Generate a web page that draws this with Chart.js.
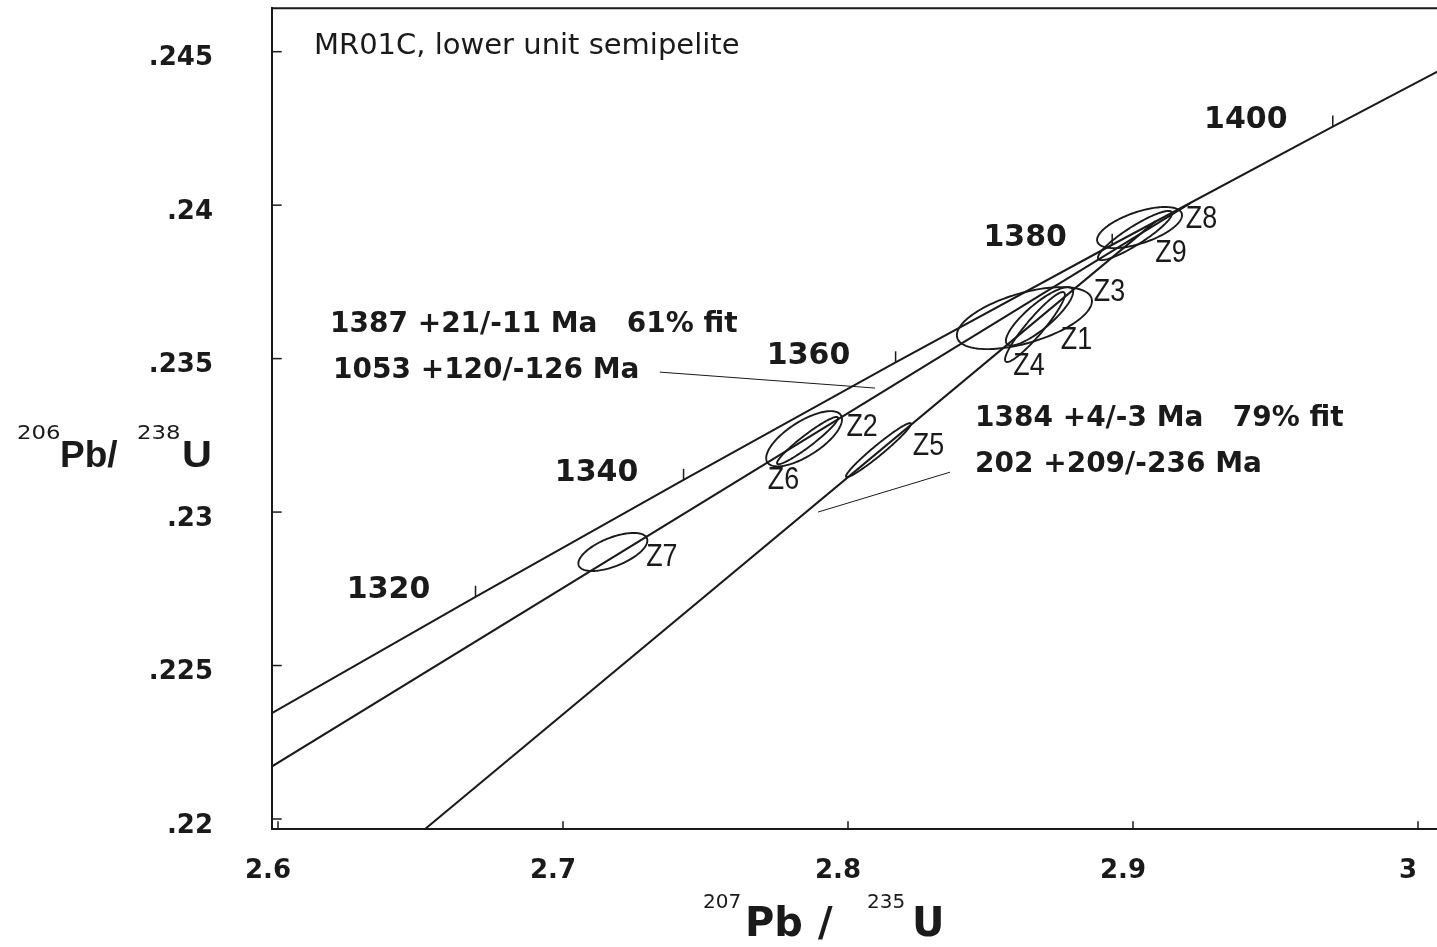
<!DOCTYPE html>
<html><head><meta charset="utf-8">
<script src="https://cdn.jsdelivr.net/npm/chart.js@4.4.1/dist/chart.umd.min.js"></script>
<style>
html,body{margin:0;padding:0;background:#fff;overflow:hidden;width:1437px;height:947px;}
#wrap{position:absolute;left:0;top:0;width:1450px;height:947px;}
canvas{display:block;}
</style></head><body>
<div id="wrap"><canvas id="c" width="1450" height="947"></canvas></div>
<script>
// ---- data ----
// Concordia curve points (age in Ma, 207Pb/235U, 206Pb/238U)
const concordiaAges = [1300, 1320, 1340, 1360, 1380, 1400, 1420];
const concordiaX = [2.5977, 2.6693, 2.7423, 2.8167, 2.8927, 2.9701, 3.0491];
const concordiaY = [0.22344, 0.22724, 0.23105, 0.23488, 0.23871, 0.24256, 0.24642];
const labeledAges = [1320, 1340, 1360, 1380, 1400];

// Discordia lines: lower intercept -> upper intercept
const discordiaA_X = [1.8208, 2.9200];   // 1053 Ma -> 1387 Ma
const discordiaA_Y = [0.17745, 0.24006];
const discordiaB_X = [0.2201, 2.9080];   // 202 Ma -> 1384 Ma
const discordiaB_Y = [0.03183, 0.23948];

// Leader lines from the intercept annotations
const leader1_X = [2.7340, 2.8095];
const leader1_Y = [0.23456, 0.23404];
const leader2_X = [2.8358, 2.7895];
const leader2_Y = [0.23130, 0.23000];

// Zircon analyses: centre, 2-sigma half extents, error correlation
const zNames = ['Z1', 'Z2', 'Z3', 'Z4', 'Z5', 'Z6', 'Z7', 'Z8', 'Z9'];
const zX   = [2.8672, 2.7846, 2.8619, 2.8656, 2.8107, 2.7858, 2.7175, 2.9023, 2.9007];
const zY   = [0.23638, 0.23239, 0.23632, 0.23603, 0.23202, 0.23233, 0.22870, 0.23927, 0.23901];
const zSX  = [0.0118, 0.0133, 0.0237, 0.0105, 0.0114, 0.0107, 0.0121, 0.0149, 0.0130];
const zSY  = [0.00095, 0.00090, 0.00101, 0.00114, 0.00088, 0.00077, 0.00062, 0.00067, 0.00080];
const zRho = [0.84, 0.70, 0.55, 0.93, 0.97, 0.95, 0.60, 0.60, 0.90];

// Axis tick settings
const xTickStep = 0.1;
const yTickStep = 0.005;

// Texts
const sampleTitle = 'MR01C, lower unit semipelite';
const fitA = ['1387 +21/-11 Ma   61% fit', '1053 +120/-126 Ma'];
const fitB = ['1384 +4/-3 Ma   79% fit', '202 +209/-236 Ma'];

// ---- drawing ----
const INK = '#1a1a1a';
const zLabelOffset = [[37, 24], [58, -12], [85, -26], [-6, 39], [50, -4], [-24, 40], [49, 5], [62, -8], [36, 18]];

function pts(xs, ys) { return xs.map((v, i) => ({x: v, y: ys[i]})); }
function lineDs(label, xs, ys, w) {
  return {label, data: pts(xs, ys), showLine: true, borderColor: INK, borderWidth: w,
          pointRadius: 0, pointHoverRadius: 0, fill: false, tension: 0};
}
function txt(ctx, s, x, y, font, opt) {
  opt = opt || {};
  ctx.save();
  ctx.translate(x, y);
  ctx.scale(opt.sx || 1, 1);
  ctx.font = font;
  ctx.fillStyle = INK;
  ctx.textAlign = opt.align || 'left';
  ctx.textBaseline = opt.baseline || 'alphabetic';
  ctx.fillText(s, 0, 0);
  ctx.restore();
}

const decor = {
  id: 'decor',
  afterDatasetsDraw(chart) {
    const {ctx, chartArea: a, scales: {x, y}} = chart;
    ctx.save();
    ctx.strokeStyle = INK;
    ctx.lineCap = 'butt';
    // frame top / right
    ctx.lineWidth = 2;
    ctx.beginPath(); ctx.moveTo(a.left, a.top); ctx.lineTo(a.right, a.top); ctx.lineTo(a.right, a.bottom); ctx.stroke();
    // inward axis ticks
    ctx.lineWidth = 1.5;
    x.ticks.forEach(t => { const px = x.getPixelForValue(t.value); ctx.beginPath(); ctx.moveTo(px, a.bottom); ctx.lineTo(px, a.bottom - 8); ctx.stroke(); });
    y.ticks.forEach(t => { const py = y.getPixelForValue(t.value); ctx.beginPath(); ctx.moveTo(a.left, py); ctx.lineTo(a.left + 10, py); ctx.stroke(); });
    // error ellipses
    ctx.lineWidth = 1.9;
    for (let i = 0; i < zNames.length; i++) {
      const s = Math.sqrt(1 - zRho[i] * zRho[i]);
      ctx.beginPath();
      for (let k = 0; k <= 144; k++) {
        const t = k / 144 * 2 * Math.PI;
        const px = x.getPixelForValue(zX[i] + zSX[i] * Math.cos(t));
        const py = y.getPixelForValue(zY[i] + zSY[i] * (zRho[i] * Math.cos(t) + s * Math.sin(t)));
        if (k) ctx.lineTo(px, py); else ctx.moveTo(px, py);
      }
      ctx.closePath(); ctx.stroke();
    }
    for (let i = 0; i < zNames.length; i++) {
      const cx = x.getPixelForValue(zX[i]), cy = y.getPixelForValue(zY[i]);
      txt(ctx, zNames[i], cx + zLabelOffset[i][0], cy + zLabelOffset[i][1], '32px "Liberation Sans"', {sx: 0.84, align: 'center', baseline: 'middle'});
    }
    // concordia age ticks and labels
    ctx.lineWidth = 1.5;
    labeledAges.forEach(age => {
      const i = concordiaAges.indexOf(age);
      const px = x.getPixelForValue(concordiaX[i]), py = y.getPixelForValue(concordiaY[i]);
      ctx.beginPath(); ctx.moveTo(px, py); ctx.lineTo(px, py - 11); ctx.stroke();
      txt(ctx, String(age), px - 87, py + 1.5, 'bold 30px "DejaVu Sans"', {align: 'center'});
    });
    ctx.restore();
  },
  afterDraw(chart) {
    const ctx = chart.ctx;
    // sample title
    txt(ctx, sampleTitle, 314, 53.5, '29px "DejaVu Sans"');
    // intercept annotations
    txt(ctx, fitA[0], 330, 332, 'bold 28px "DejaVu Sans"');
    txt(ctx, fitA[1], 333, 378, 'bold 28px "DejaVu Sans"');
    txt(ctx, fitB[0], 975, 426, 'bold 28px "DejaVu Sans"');
    txt(ctx, fitB[1], 975, 472, 'bold 28px "DejaVu Sans"');
    // y axis title 206Pb/238U
    txt(ctx, '206', 17, 438.5, '19px "DejaVu Sans"', {sx: 1.2});
    txt(ctx, 'Pb/', 60, 467, 'bold 37px "Liberation Sans"');
    txt(ctx, '238', 137, 438.5, '19px "DejaVu Sans"', {sx: 1.2});
    txt(ctx, 'U', 182, 467, 'bold 37px "Liberation Sans"', {sx: 1.12});
    // x axis title 207Pb / 235U
    txt(ctx, '207', 703, 908, '20px "DejaVu Sans"');
    txt(ctx, 'Pb', 745, 936, 'bold 40px "DejaVu Sans"');
    txt(ctx, '/', 818, 936, 'bold 40px "DejaVu Sans"');
    txt(ctx, '235', 867, 908, '20px "DejaVu Sans"');
    txt(ctx, 'U', 912, 936, 'bold 40px "DejaVu Sans"');
  }
};

const fmtX = v => String(Math.round(v * 10) / 10);
const fmtY = v => String(Math.round(v * 1000) / 1000).replace(/^0\./, '.');

new Chart(document.getElementById('c'), {
  type: 'scatter',
  data: {
    datasets: [
      lineDs('Concordia', concordiaX, concordiaY, 2),
      lineDs('Discordia 1387/1053 Ma', discordiaA_X, discordiaA_Y, 2),
      lineDs('Discordia 1384/202 Ma', discordiaB_X, discordiaB_Y, 2),
      lineDs('leader 1', leader1_X, leader1_Y, 1),
      lineDs('leader 2', leader2_X, leader2_Y, 1)
    ]
  },
  options: {
    responsive: false,
    devicePixelRatio: 1,
    animation: false,
    events: [],
    layout: {padding: {left: 0, top: 8.3, right: 5, bottom: 0}},
    plugins: {legend: {display: false}, tooltip: {enabled: false}, title: {display: false}},
    scales: {
      x: {
        type: 'linear', position: 'bottom',
        min: 2.597789, max: 3.009474,
        afterFit: s => { s.height = 117.7; s.paddingLeft = 0; s.paddingRight = 0; },
        grid: {display: false, drawTicks: false},
        border: {display: true, color: INK, width: 2},
        ticks: {stepSize: xTickStep, includeBounds: false, padding: 26, labelOffset: -10,
                color: INK, font: {family: 'DejaVu Sans', weight: 'bold', size: 26},
                maxRotation: 0, autoSkip: false, callback: fmtX}
      },
      y: {
        type: 'linear', position: 'left',
        min: 0.219664, max: 0.246414,
        afterFit: s => { s.width = 271.7; s.paddingTop = 0; s.paddingBottom = 0; },
        grid: {display: false, drawTicks: false},
        border: {display: true, color: INK, width: 2},
        ticks: {stepSize: yTickStep, includeBounds: false, padding: 58.7, labelOffset: 7,
                color: INK, font: {family: 'DejaVu Sans', weight: 'bold', size: 26},
                autoSkip: false, callback: fmtY}
      }
    }
  },
  plugins: [decor]
});
</script>
</body></html>
